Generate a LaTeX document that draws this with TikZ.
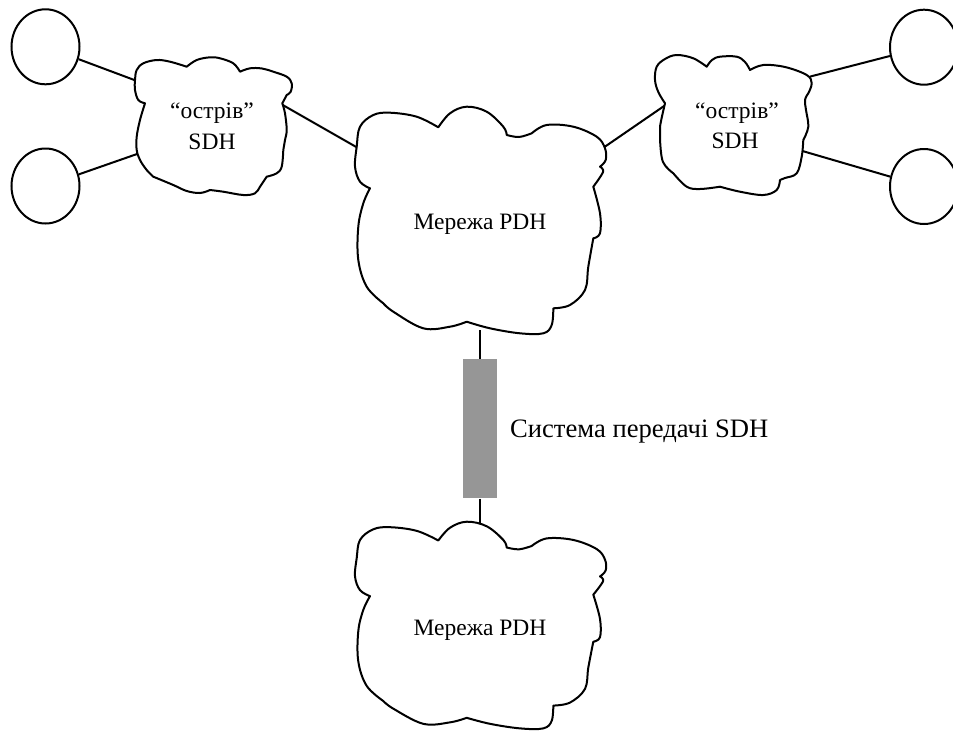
\documentclass[tikz,border=0pt]{standalone}
\usepackage{fontspec}
\setmainfont{Liberation Serif}
\usetikzlibrary{shapes.geometric}

\definecolor{sdhgray}{RGB}{150,150,150}

% outline of a large PDH network cloud (drawn for the upper one, rescaled for the lower one)
\newcommand\PdhCloudOutline{%
  plot[smooth,tension=0.6] coordinates {(370,188.3) (360,181.7) (355,166.7) (356.7,146.7) (360,126.7) (373.3,115) (390,112.7) (416.7,116.7) (438.3,127.3)}
  -- plot[smooth,tension=0.6] coordinates {(438.3,127.3) (450,113.3) (466.7,106.7) (486.7,111.7) (503.3,126.7) (506.7,135)}
  -- plot[smooth,tension=0.6] coordinates {(506.7,135) (519,137) (531.7,133.3)}
  -- plot[smooth,tension=0.6] coordinates {(531.7,133.3) (546.7,125) (573.3,126.7) (596.7,136.7) (605,148.3) (605.7,160) (600,166.7)}
  -- plot[smooth,tension=0.6] coordinates {(600,166.7) (603,172) (593.3,186.7)}
  -- plot[smooth,tension=0.6] coordinates {(593.3,186.7) (600,213.3) (600,233.3) (593.3,238.3)}
  -- plot[smooth,tension=0.6] coordinates {(593.3,238.3) (588.3,266.7) (585,290) (570,305) (553.3,308.3)}
  -- plot[smooth,tension=0.6] coordinates {(553.3,308.3) (551.7,325) (543.3,333.3) (520,333.3) (490,328.3) (466.7,321.7)}
  -- plot[smooth,tension=0.6] coordinates {(466.7,321.7) (450,326.7) (423.3,328.3) (393.3,311.7) (383.3,303.3)}
  -- plot[smooth,tension=0.6] coordinates {(383.3,303.3) (366.7,286.7) (358.3,260) (358.3,226.7) (363.3,203.3) (370,188.3)}
  -- cycle}

\begin{document}
\begin{tikzpicture}[x=1pt,y=-1pt,
  link/.style={line width=2pt},
  station/.style={draw, line width=2pt, ellipse, minimum width=68pt, minimum height=75pt, inner sep=0pt},
  cloudline/.style={draw, line width=2pt, fill=white, line join=round},
  lbl/.style={font=\fontsize{23.5}{28}\selectfont, inner sep=0pt, anchor=base},
  biglbl/.style={font=\fontsize{26.6}{32}\selectfont, inner sep=0pt, anchor=base west},
  trunk/.style={fill=sdhgray, minimum width=34.6pt, minimum height=139.3pt, inner sep=0pt}]

\useasboundingbox (0,0) rectangle (953,734);
\clip (0,0) rectangle (953,734);

% end stations
\node[station] (s1) at (45.5,46.8) {};
\node[station] (s2) at (45.5,186) {};
\node[station] (s3) at (924,47.2) {};
\node[station] (s4) at (924,186.5) {};

% SDH transmission system between the two PDH networks
\node[trunk] (sys) at (480,428.7) {};

% attachment points on the cloud outlines
\coordinate (la) at (137,81);
\coordinate (lb) at (138.5,153.5);
\coordinate (lc) at (281,104);
\coordinate (ma) at (358,148);
\coordinate (mb) at (603,148);
\coordinate (ra) at (667,104);
\coordinate (rb) at (810,76.6);
\coordinate (rc) at (800,150.3);
\coordinate (mc) at (480,330);
\coordinate (na) at (480,526);

% connectors
\draw[link] (s1) -- (la);
\draw[link] (s2) -- (lb);
\draw[link] (lc) -- (ma);
\draw[link] (mb) -- (ra);
\draw[link] (rb) -- (s3);
\draw[link] (rc) -- (s4);
\draw[link] (mc) -- (sys.north);
\draw[link] (sys.south) -- (na);

% left SDH island
\draw[cloudline]
  plot[smooth,tension=0.6] coordinates {(145,103.3) (138.3,100) (135,90) (135,80) (136.7,70) (143.3,63.3) (156.7,60) (170,61.7) (186.7,66.7)}
  -- plot[smooth,tension=0.6] coordinates {(186.7,66.7) (196.7,60) (210,57.3) (220,58.3) (233.3,63.3) (240,71.7)}
  -- plot[smooth,tension=0.6] coordinates {(240,71.7) (250,68.3) (262,68.5) (273.3,71.7) (286.7,76.7) (291.7,83.3) (290.7,91.7) (286.7,95)}
  -- plot[smooth,tension=0.6] coordinates {(286.7,95) (285,98.3) (282.3,103.3)}
  -- plot[smooth,tension=0.6] coordinates {(282.3,103.3) (285,113.3) (286.7,130) (285,140) (283.3,150)}
  -- plot[smooth,tension=0.6] coordinates {(283.3,150) (281.7,166.7) (276.7,173.3) (266.7,176.7)}
  -- plot[smooth,tension=0.6] coordinates {(266.7,176.7) (260,186.7) (255,193.3) (243.3,195) (223.3,191.7) (210,190)}
  -- plot[smooth,tension=0.6] coordinates {(210,190) (200,193) (186.7,191) (173.3,185) (153.3,176.7)}
  -- plot[smooth,tension=0.6] coordinates {(153.3,176.7) (146.7,170) (140,160) (136.7,150) (136.7,136.7) (140,120) (145,103.3)}
  -- cycle;

% right SDH island
\draw[cloudline]
  plot[smooth,tension=0.6] coordinates {(665,103.3) (658.3,92) (655,80) (656.7,66.7) (665,59) (676.7,55) (693.3,58.3) (706.7,66.7)}
  -- plot[smooth,tension=0.6] coordinates {(706.7,66.7) (712,60) (720,56.7) (736.7,56.7) (745,62) (750,70)}
  -- plot[smooth,tension=0.6] coordinates {(750,70) (763.3,65) (785,67) (806.7,75) (811.7,83.3) (808.3,93.3)}
  -- plot[smooth,tension=0.6] coordinates {(808.3,93.3) (805,100) (806,110) (808.3,126.7) (803.3,140)}
  -- plot[smooth,tension=0.6] coordinates {(803.3,140) (801.7,156.7) (796.7,173.3) (785,178) (780,180)}
  -- plot[smooth,tension=0.6] coordinates {(780,180) (776.7,190) (763.3,195) (740,191.7) (720,186.7)}
  -- plot[smooth,tension=0.6] coordinates {(720,186.7) (700,189) (686.7,186.7) (673.3,173.3)}
  -- plot[smooth,tension=0.6] coordinates {(673.3,173.3) (663,162) (660,140) (660,126.7) (665,103.3)}
  -- cycle;

% PDH networks
\draw[cloudline] \PdhCloudOutline;
\begin{scope}[shift={(0,424.4)}, yscale=0.912]
  \draw[cloudline] \PdhCloudOutline;
\end{scope}

% labels
\node[lbl] (lt1) at (212,118.3) {“острів”};
\node[lbl] (lt2) at (212,149.3) {SDH};
\node[lbl] (rt1) at (737,118.3) {“острів”};
\node[lbl] (rt2) at (735,148.8) {SDH};
\node[lbl] (mt) at (480,229.3) {Мережа PDH};
\node[lbl] (nt) at (480,635) {Мережа PDH};
\node[biglbl] (syslbl) at (510,437.3) {Система передачі SDH};
\end{tikzpicture}
\end{document}
